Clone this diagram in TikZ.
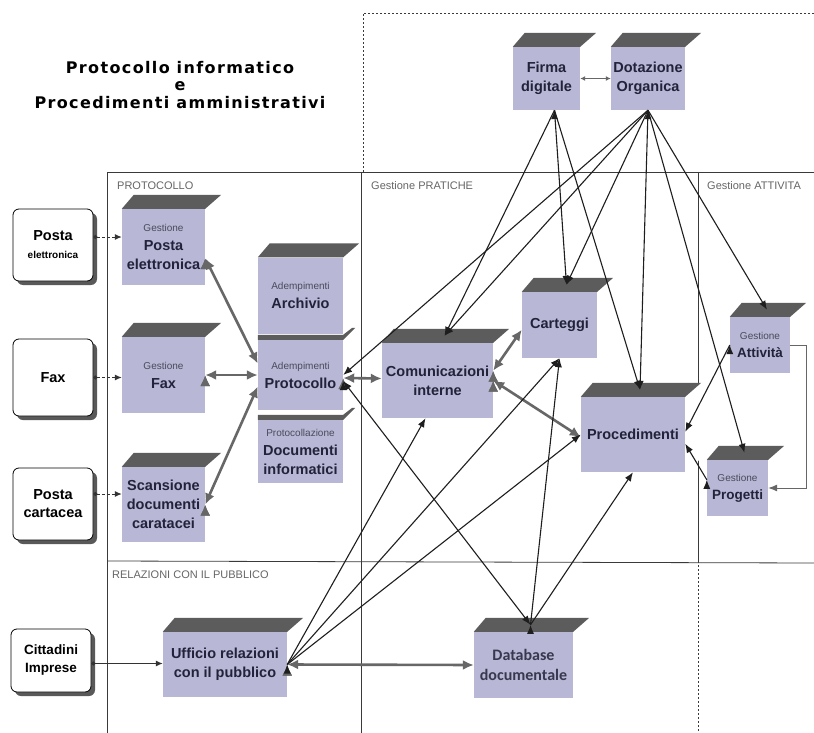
\documentclass[tikz,border=0pt]{standalone}
\usepackage{fontspec}
\setmainfont{Liberation Sans}
\newfontfamily\titlefont[LetterSpace=8.5]{DejaVu Sans}
\newfontfamily\dbfont{Carlito}
\usetikzlibrary{arrows.meta,shadows}

\definecolor{cubefill}{HTML}{B8B8D6}
\definecolor{cubetop}{HTML}{5C5C5C}
\definecolor{cubeink}{HTML}{22223A}
\definecolor{tagink}{HTML}{4A4A5A}
\definecolor{wireink}{HTML}{1E1E1E}
\definecolor{fatink}{HTML}{676767}
\definecolor{frameink}{HTML}{3A3A3A}

\newcommand{\tagline}[1]{{\fontsize{10}{12}\selectfont\mdseries\color{tagink}#1}}

\tikzset{
  cube/.style={fill=cubefill, inner sep=1pt, align=center, text=cubeink,
    font=\fontsize{14.5}{19}\selectfont\bfseries},
  source/.style={draw=black, fill=white, rounded corners=6pt, line width=0.8pt,
    align=center, font=\fontsize{14.5}{18}\selectfont\bfseries,
    drop shadow={shadow xshift=4pt, shadow yshift=-4pt, fill=black!65, opacity=1}},
  fat/.style={draw=fatink, line width=2.6pt,
    arrows={Latex[length=11pt,width=10pt]-Latex[length=11pt,width=10pt]}},
  wire/.style={draw=wireink, line width=1.1pt, arrows={-Latex[length=9pt,width=7pt]}},
  feed/.style={draw=black!80, line width=1pt, densely dashed,
    arrows={Circle[length=4pt]-Latex[length=7pt,width=6pt]}},
  frame/.style={draw=frameink, line width=0.8pt},
  loose/.style={draw=frameink, line width=0.6pt, dash pattern=on 2pt off 2pt},
  area/.style={anchor=west, inner sep=0pt, text=black!60,
    font=\fontsize{11}{13}\selectfont}
}

\begin{document}
\begin{tikzpicture}[x=1pt, y=-1pt]
\fill[white] (0,0) rectangle (814,733);
\useasboundingbox (0,0) rectangle (814,733);

% areas
\draw[frame] (107,733) -- (107,172) -- (814,172);
\draw[frame] (361,172) -- (361,733);
\draw[frame] (698,172) -- (698,561);
\draw[frame] (107,561) -- (814,563);
\draw[loose] (698,561) -- (698,733);
\draw[loose] (363,172) -- (363,13) -- (814,13);

\node[align=center, font=\titlefont\bfseries\fontsize{16}{17.5}\selectfont] (title) at (180,85)
  {Protocollo informatico\\e\\Procedimenti amministrativi};

\node[area] (lblprot) at (117,186) {PROTOCOLLO};
\node[area] (lblprat) at (371,186) {Gestione PRATICHE};
\node[area] (lblatt) at (707,186) {Gestione ATTIVITA};
\node[area] (lblrel) at (112,575) {RELAZIONI CON IL PUBBLICO};

\begin{scope}[every node/.style={source}]
  \node[minimum width=80pt, minimum height=72pt] (srcpe) at (53,245)
    {Posta\\{\fontsize{10}{12}\selectfont elettronica}};
  \node[minimum width=80pt, minimum height=77pt] (srcfax) at (53,377.5) {Fax};
  \node[minimum width=80pt, minimum height=72pt] (srcpc) at (53,504) {Posta\\cartacea};
  \node[minimum width=80pt, minimum height=63pt, font=\fontsize{13.5}{18}\selectfont\bfseries]
    (srcci) at (51,660.5) {Cittadini\\Imprese};
\end{scope}

\begin{scope}[every node/.style={cube}]
  \node[minimum width=83pt, minimum height=76pt] (gpe) at (163.5,247)
    {\tagline{Gestione}\\Posta\\elettronica};
  \node[minimum width=83pt, minimum height=76pt] (gfax) at (163.5,375)
    {\tagline{Gestione}\\Fax};
  \node[minimum width=83pt, minimum height=75pt] (scan) at (163.5,504.5)
    {Scansione\\documenti\\caratacei};
  \node[minimum width=85pt, minimum height=76pt] (arch) at (300.5,295.5)
    {\tagline{Adempimenti}\\Archivio};
  \node[minimum width=85pt, minimum height=70pt] (prot) at (300.5,375)
    {\tagline{Adempimenti}\\Protocollo};
  \node[minimum width=85pt, minimum height=63pt] (docinf) at (300.5,451.5)
    {\tagline{Protocollazione}\\Documenti\\informatici};
  \node[minimum width=67pt, minimum height=63pt] (firma) at (546.5,78.5) {Firma\\digitale};
  \node[minimum width=74pt, minimum height=63pt] (dot) at (648,78.5) {Dotazione\\Organica};
  \node[minimum width=111pt, minimum height=75pt] (com) at (437.5,380.5)
    {Comunicazioni\\interne};
  \node[minimum width=75pt, minimum height=66pt] (cart) at (559.5,325) {Carteggi};
  \node[minimum width=104pt, minimum height=75pt] (proc) at (633,434.5) {Procedimenti};
  \node[minimum width=60pt, minimum height=56pt, font=\fontsize{13.5}{18}\selectfont\bfseries]
    (att) at (760,345) {\tagline{Gestione}\\Attività};
  \node[minimum width=61pt, minimum height=56pt, font=\fontsize{13.5}{18}\selectfont\bfseries]
    (prog) at (737.5,488) {\tagline{Gestione}\\Progetti};
  \node[minimum width=124pt, minimum height=65pt] (urp) at (225,664.5)
    {Ufficio relazioni\\con il pubblico};
  \node[minimum width=99pt, minimum height=66pt, font=\dbfont\fontsize{16}{20}\selectfont\bfseries,
    text=cubeink!90] (db) at (523.5,665) {Database\\documentale};
\end{scope}

% box tops
\foreach \n in {gpe,gfax,scan,arch,com,cart,proc,att,prog,firma,dot,urp,db} {
  \fill[white] (\n.north east) -- ++(16,-14) -- ([shift={(16,-14)}]\n.south east) -- (\n.south east) -- cycle;
  \fill[cubetop] (\n.north west) -- (\n.north east) -- ++(16,-14) -- ([shift={(12,-14)}]\n.north west) -- cycle;
  \coordinate (\n-top) at ([shift={(7,-7)}]\n.north);
}
\foreach \n in {prot,docinf} {
  \fill[cubetop] (\n.north west) -- (\n.north east) -- ++(12,-12) -- ++(-3,0)
    -- ([yshift=5pt]\n.north east) -- ([yshift=5pt]\n.north west) -- cycle;
}

% inputs
\path ([yshift=8pt]srcpe.east) edge[feed] ([yshift=8pt]srcpe.east -| gpe.west);
\path (srcfax.east) edge[feed] (srcfax.east -| gfax.west);
\path ([yshift=10pt]srcpc.east) edge[feed] ([yshift=10pt]srcpc.east -| scan.west);
\path ([yshift=-3pt]srcci.east) edge[feed, solid] ([yshift=-3pt]srcci.east -| urp.west);

\begin{scope}[every path/.style={fat}]
  \path (gpe.-15) edge (prot.165);
  \path (gfax.east) edge (prot.west);
  \path (scan.east) edge (prot.195);
  \path ([yshift=-3pt]prot.east) edge ([yshift=2pt]com.west);
  \path (com.10) edge (cart.187);
  \path (com.east) edge (proc.183);
  \path (urp.east) edge (db.west);
\end{scope}
\path (firma.east) edge[fat, line width=1pt,
  arrows={Latex[length=5pt,width=5pt]-Latex[length=5pt,width=5pt]}] (dot.west);

\begin{scope}[every path/.style={wire}]
  \path ([xshift=8pt]firma.south) edge (com-top) edge (cart-top) edge (proc-top);
  \path (dot.south) edge (prot.east) edge (com-top) edge (cart-top)
    edge (proc-top) edge (att-top) edge (prog-top);
  \path (prot.-8) edge[arrows={Latex[length=9pt,width=7pt]-Latex[length=9pt,width=7pt]}] (db-top);
  \path (db-top) edge (cart.south) edge (proc.south);
  \path (urp.east) edge ([xshift=-12pt]com.south) edge (cart.south) edge (proc.west);
  \path (att.west) edge (proc.3);
  \path (prog.165) edge (proc.-10);
\end{scope}
\draw[wire, draw=black!60, line width=0.9pt] (att.east) -- ++(16,0) |- (prog.east);

\end{tikzpicture}
\end{document}
